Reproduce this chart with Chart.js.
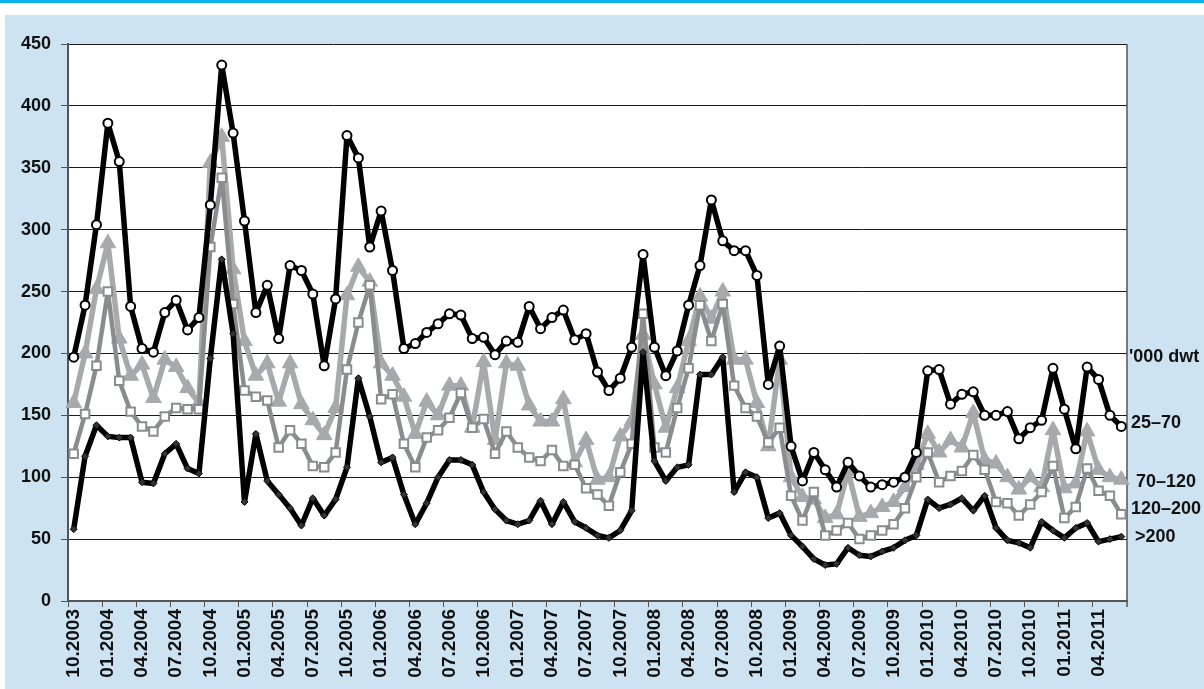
<!DOCTYPE html>
<html>
<head>
<meta charset="utf-8">
<script src="https://cdn.jsdelivr.net/npm/chart.js@4.4.1/dist/chart.umd.min.js"></script>
<style>
  html, body { margin: 0; padding: 0; background: #fff; }
  canvas { display: block; }
</style>
</head>
<body>
<canvas id="chart" width="1204" height="689"></canvas>
<script>
// months, 10.2003 - 06.2011
const months = [
  '10.2003', '11.2003', '12.2003',
  '01.2004', '02.2004', '03.2004', '04.2004', '05.2004', '06.2004', '07.2004', '08.2004', '09.2004', '10.2004', '11.2004', '12.2004',
  '01.2005', '02.2005', '03.2005', '04.2005', '05.2005', '06.2005', '07.2005', '08.2005', '09.2005', '10.2005', '11.2005', '12.2005',
  '01.2006', '02.2006', '03.2006', '04.2006', '05.2006', '06.2006', '07.2006', '08.2006', '09.2006', '10.2006', '11.2006', '12.2006',
  '01.2007', '02.2007', '03.2007', '04.2007', '05.2007', '06.2007', '07.2007', '08.2007', '09.2007', '10.2007', '11.2007', '12.2007',
  '01.2008', '02.2008', '03.2008', '04.2008', '05.2008', '06.2008', '07.2008', '08.2008', '09.2008', '10.2008', '11.2008', '12.2008',
  '01.2009', '02.2009', '03.2009', '04.2009', '05.2009', '06.2009', '07.2009', '08.2009', '09.2009', '10.2009', '11.2009', '12.2009',
  '01.2010', '02.2010', '03.2010', '04.2010', '05.2010', '06.2010', '07.2010', '08.2010', '09.2010', '10.2010', '11.2010', '12.2010',
  '01.2011', '02.2011', '03.2011', '04.2011', '05.2011', '06.2011'
];

// '000 dwt
const dwt25to70 = [
  197, 239, 304,
  386, 355, 238, 204, 201, 233, 243, 219, 229, 320, 433, 378,
  307, 233, 255, 212, 271, 267, 248, 190, 244, 376, 358, 286,
  315, 267, 204, 208, 217, 224, 232, 231, 212, 213, 199, 210,
  209, 238, 220, 229, 235, 211, 216, 185, 170, 180, 205, 280,
  205, 182, 202, 239, 271, 324, 291, 283, 283, 263, 175, 206,
  125, 97, 120, 106, 92, 112, 101, 92, 94, 96, 100, 120,
  186, 187, 159, 167, 169, 150, 150, 153, 131, 140, 146, 188,
  155, 123, 189, 179, 150, 141
];
const dwt70to120 = [
  160, 200, 252,
  289, 212, 182, 191, 164, 195, 189, 172, 160, 354, 375, 268,
  210, 182, 192, 161, 192, 159, 146, 134, 156, 247, 270, 258,
  192, 182, 165, 135, 161, 150, 174, 174, 140, 193, 130, 192,
  190, 158, 145, 145, 163, 112, 130, 98, 100, 133, 145, 215,
  175, 140, 172, 210, 246, 228, 250, 195, 195, 160, 125, 195,
  100, 84, 82, 67, 70, 105, 68, 71, 76, 80, 92, 110,
  135, 120, 130, 124, 152, 114, 111, 100, 90, 100, 92, 138,
  91, 95, 137, 106, 100, 98
];
const dwt120to200 = [
  119, 151, 190,
  250, 178, 153, 141, 137, 149, 156, 155, 155, 286, 342, 240,
  170, 165, 162, 124, 138, 127, 109, 108, 120, 187, 225, 255,
  163, 167, 127, 108, 132, 138, 148, 168, 140, 147, 119, 137,
  124, 116, 113, 122, 109, 110, 91, 86, 77, 104, 127, 232,
  124, 120, 156, 188, 239, 210, 240, 174, 156, 149, 128, 140,
  85, 65, 88, 53, 57, 63, 50, 53, 57, 62, 75, 100,
  120, 96, 101, 105, 118, 106, 80, 79, 69, 78, 88, 109,
  67, 76, 107, 89, 85, 70
];
const dwtOver200 = [
  58, 117, 142,
  133, 132, 132, 96, 95, 119, 127, 107, 103, 196, 276, 216,
  80, 135, 97, 86, 75, 61, 83, 69, 82, 108, 180, 149,
  112, 116, 86, 62, 79, 100, 114, 114, 110, 88, 74, 65,
  62, 65, 81, 62, 80, 64, 59, 53, 51, 57, 73, 201,
  113, 97, 108, 110, 183, 183, 197, 88, 104, 100, 67, 71,
  53, 44, 34, 29, 30, 43, 37, 36, 40, 43, 49, 53,
  82, 75, 78, 83, 73, 85, 59, 49, 47, 43, 64, 57,
  51, 59, 63, 48, 50, 52
];
const unitLabel = "'000 dwt";
const yTicks = [0, 50, 100, 150, 200, 250, 300, 350, 400, 450];

const FONT = '"Liberation Sans", Arial, sans-serif';

// hintergrund, panel, weisse zeichenflaeche, rahmen rechts, beschriftung rechts
const panelPlugin = {
  id: 'panel',
  beforeDraw(chart) {
    const ctx = chart.ctx;
    const a = chart.chartArea;
    ctx.save();
    ctx.fillStyle = '#ffffff';
    ctx.fillRect(0, 0, chart.width, chart.height);
    ctx.fillStyle = '#09b1ec';
    ctx.fillRect(0, 0, chart.width, 3);
    ctx.fillStyle = '#cde3f2';
    ctx.fillRect(5, 15, chart.width - 5, chart.height - 15);
    ctx.fillStyle = '#ffffff';
    ctx.fillRect(a.left, a.top, a.right - a.left, a.bottom - a.top);
    ctx.restore();
  },
  beforeDatasetsDraw(chart) {
    const ctx = chart.ctx;
    const a = chart.chartArea;
    ctx.save();
    ctx.strokeStyle = '#555';
    ctx.lineWidth = 1.5;
    ctx.beginPath();
    ctx.moveTo(a.right, a.top);
    ctx.lineTo(a.right, a.bottom + 6);
    ctx.stroke();
    ctx.restore();
  },
  afterDraw(chart) {
    const ctx = chart.ctx;
    const a = chart.chartArea;
    const y = chart.scales.y;
    ctx.save();
    ctx.fillStyle = '#111';
    ctx.font = 'bold 18px ' + FONT;
    ctx.textAlign = 'left';
    ctx.textBaseline = 'middle';
    ctx.fillText(unitLabel, a.right + 2, y.getPixelForValue(200) + 4);
    chart.data.datasets.forEach(ds => {
      const last = ds.data[ds.data.length - 1];
      ctx.fillText(ds.label, a.right + ds.tagIndent, y.getPixelForValue(last) + ds.tagShift);
    });
    ctx.restore();
  }
};

const ctx = document.getElementById('chart').getContext('2d');
new Chart(ctx, {
  type: 'line',
  data: {
    labels: months,
    datasets: [
      {
        label: '25\u201370',
        tagIndent: 4, tagShift: -3,
        data: dwt25to70,
        borderColor: '#000',
        borderWidth: 5.5,
        borderJoinStyle: 'round',
        pointStyle: 'circle',
        pointRadius: 4.5,
        pointBackgroundColor: '#fff',
        pointBorderColor: '#000',
        pointBorderWidth: 2
      },
      {
        label: '>200',
        tagIndent: 8, tagShift: 0,
        data: dwtOver200,
        borderColor: '#000',
        borderWidth: 5.5,
        borderJoinStyle: 'round',
        pointStyle: 'rectRot',
        pointRadius: 3.5,
        pointBackgroundColor: '#333',
        pointBorderColor: '#111',
        pointBorderWidth: 1
      },
      {
        label: '120\u2013200',
        tagIndent: 4, tagShift: -5,
        data: dwt120to200,
        borderColor: '#8a8c8e',
        borderWidth: 4.5,
        borderJoinStyle: 'round',
        pointStyle: 'rect',
        pointRadius: 6,
        pointBackgroundColor: '#fff',
        pointBorderColor: '#8a8c8e',
        pointBorderWidth: 2
      },
      {
        label: '70\u2013120',
        tagIndent: 9, tagShift: 2,
        data: dwt70to120,
        borderColor: '#a7a9ac',
        borderWidth: 5.5,
        borderJoinStyle: 'round',
        pointStyle: 'triangle',
        pointRadius: 9,
        pointBackgroundColor: '#a7a9ac',
        pointBorderColor: '#a7a9ac',
        pointBorderWidth: 1
      }
    ]
  },
  options: {
    responsive: false,
    animation: false,
    devicePixelRatio: 1,
    layout: { padding: { top: 44, right: 77, left: 0, bottom: 0 } },
    elements: { line: { tension: 0 } },
    plugins: {
      legend: { display: false },
      tooltip: { enabled: false }
    },
    scales: {
      x: {
        type: 'category',
        offset: true,
        afterFit(scale) { scale.height = 88; },
        border: { display: true, color: '#555', width: 2 },
        grid: {
          offset: true,
          drawOnChartArea: false,
          drawTicks: true,
          tickLength: 6,
          color: (c) => (c.index !== undefined && c.index % 3 === 0) ? '#555' : 'rgba(0,0,0,0)'
        },
        ticks: {
          autoSkip: false,
          maxRotation: 90,
          minRotation: 90,
          padding: 2,
          color: '#111',
          font: { family: FONT, size: 19, weight: 'bold' },
          callback(value, index) { return index % 3 === 0 ? months[index] : ''; }
        }
      },
      y: {
        min: 0,
        max: 450,
        afterFit(scale) { scale.width = 68; },
        afterBuildTicks(scale) { scale.ticks = yTicks.map(v => ({ value: v })); },
        border: { display: true, color: '#555', width: 2 },
        grid: {
          color: '#1a1a1a',
          lineWidth: 1,
          drawTicks: true,
          tickLength: 7,
          tickColor: '#555'
        },
        ticks: {
          padding: 10,
          color: '#111',
          font: { family: FONT, size: 18, weight: 'bold' }
        }
      }
    }
  },
  plugins: [panelPlugin]
});
</script>
</body>
</html>
